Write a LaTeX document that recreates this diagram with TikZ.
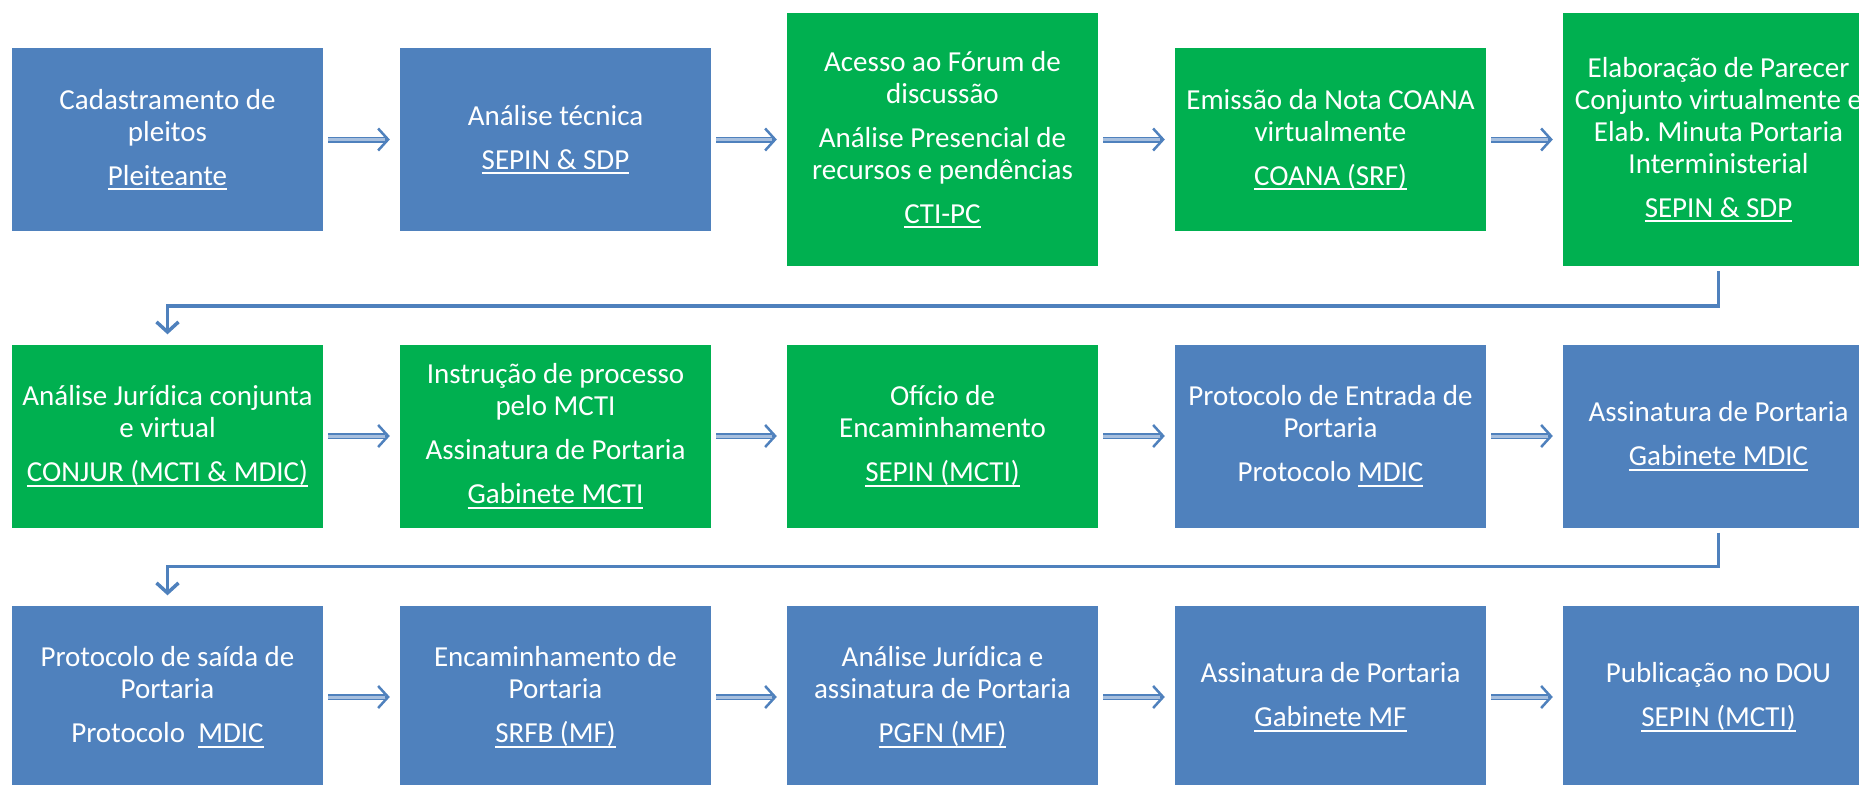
\documentclass[tikz,border=0pt]{standalone}
\usepackage{fontspec}
\setmainfont{Carlito}
\usetikzlibrary{arrows.meta}
\definecolor{boxblue}{RGB}{79,129,189}
\definecolor{boxgreen}{RGB}{0,176,80}
\definecolor{arrblue}{RGB}{79,129,189}
\definecolor{arrlight}{RGB}{167,191,222}
\newcommand\uln[1]{\setbox0\hbox{#1}\rlap{\rule[-5pt]{\wd0}{2pt}}\box0}
\newcommand\flowarrow[2]{%
  \draw[flowtip] (#1.east) -- (#2.west);
  \draw[flowshaft] (#1.east) -- (#2.west);
  \draw[flowinner] (#1.east) -- (#2.west);}
\frenchspacing
\begin{document}
\begin{tikzpicture}[x=1pt,y=-1pt,
  box/.style={minimum width=311pt, minimum height=183pt, inner sep=0pt, text=white, align=center, font=\fontsize{29}{32}\selectfont},
  bluebox/.style={box, fill=boxblue},
  greenbox/.style={box, fill=boxgreen},
  tall/.style={minimum height=253pt},
  flowtip/.style={draw=arrblue, line width=2.5pt, shorten <=5pt, shorten >=10pt, -{Straight Barb[length=10pt, width=22pt]}},
  flowshaft/.style={draw=arrblue, line width=6pt, shorten <=5pt, shorten >=15pt},
  flowinner/.style={draw=arrlight, line width=3pt, shorten <=5pt, shorten >=15pt},
  elbow/.style={draw=arrblue, line width=3.5pt, shorten <=5pt, shorten >=10pt, -{Straight Barb[length=10pt, width=22pt]}}
]
\useasboundingbox (0,0) rectangle (1859,784);
\clip (0,0) rectangle (1859,784);
\fill[white] (0,0) rectangle (1859,784);

% Row 1
\node[bluebox] (r1c1) at (167.5,139.5) {Cadastramento de\\pleitos\\[12pt]\uln{Pleiteante}};
\node[bluebox] (r1c2) at (555.5,139.5) {Análise técnica\\[12pt]\uln{SEPIN \& SDP}};
\node[greenbox, tall] (r1c3) at (942.5,139.5) {Acesso ao Fórum de\\discussão\\[12pt]Análise Presencial de\\recursos e pendências\\[12pt]\uln{CTI-PC}};
\node[greenbox] (r1c4) at (1330.5,139.5) {Emissão da Nota COANA\\virtualmente\\[12pt]\uln{COANA (SRF)}};
\node[greenbox, tall] (r1c5) at (1718.5,139.5) {Elaboração de Parecer\\Conjunto virtualmente e\\Elab. Minuta Portaria\\Interministerial\\[12pt]\uln{SEPIN \& SDP}};

% Row 2
\node[greenbox] (r2c1) at (167.5,436) {Análise Jurídica conjunta\\e virtual\\[12pt]\uln{CONJUR (MCTI \& MDIC)}};
\node[greenbox] (r2c2) at (555.5,436) {Instrução de processo\\pelo MCTI\\[12pt]Assinatura de Portaria\\[12pt]\uln{Gabinete MCTI}};
\node[greenbox] (r2c3) at (942.5,436) {Ofício de\\Encaminhamento\\[12pt]\uln{SEPIN (MCTI)}};
\node[bluebox] (r2c4) at (1330.5,436) {Protocolo de Entrada de\\Portaria\\[12pt]Protocolo \uln{MDIC}};
\node[bluebox] (r2c5) at (1718.5,436) {Assinatura de Portaria\\[12pt]\uln{Gabinete MDIC}};

% Row 3
\node[bluebox] (r3c1) at (167.5,697) {Protocolo de saída de\\Portaria\\[12pt]Protocolo\ \ \uln{MDIC}};
\node[bluebox] (r3c2) at (555.5,697) {Encaminhamento de\\Portaria\\[12pt]\uln{SRFB (MF)}};
\node[bluebox] (r3c3) at (942.5,697) {Análise Jurídica e\\assinatura de Portaria\\[12pt]\uln{PGFN (MF)}};
\node[bluebox] (r3c4) at (1330.5,697) {Assinatura de Portaria\\[12pt]\uln{Gabinete MF}};
\node[bluebox] (r3c5) at (1718.5,697) {Publicação no DOU\\[12pt]\uln{SEPIN (MCTI)}};

% Arrows
\flowarrow{r1c1}{r1c2}
\flowarrow{r1c2}{r1c3}
\flowarrow{r1c3}{r1c4}
\flowarrow{r1c4}{r1c5}
\flowarrow{r2c1}{r2c2}
\flowarrow{r2c2}{r2c3}
\flowarrow{r2c3}{r2c4}
\flowarrow{r2c4}{r2c5}
\flowarrow{r3c1}{r3c2}
\flowarrow{r3c2}{r3c3}
\flowarrow{r3c3}{r3c4}
\flowarrow{r3c4}{r3c5}

% Row connectors
\draw[elbow] (r1c5.south) -- ++(0,40) -| (r2c1.north);
\draw[elbow] (r2c5.south) -- ++(0,39) -| (r3c1.north);
\end{tikzpicture}
\end{document}
